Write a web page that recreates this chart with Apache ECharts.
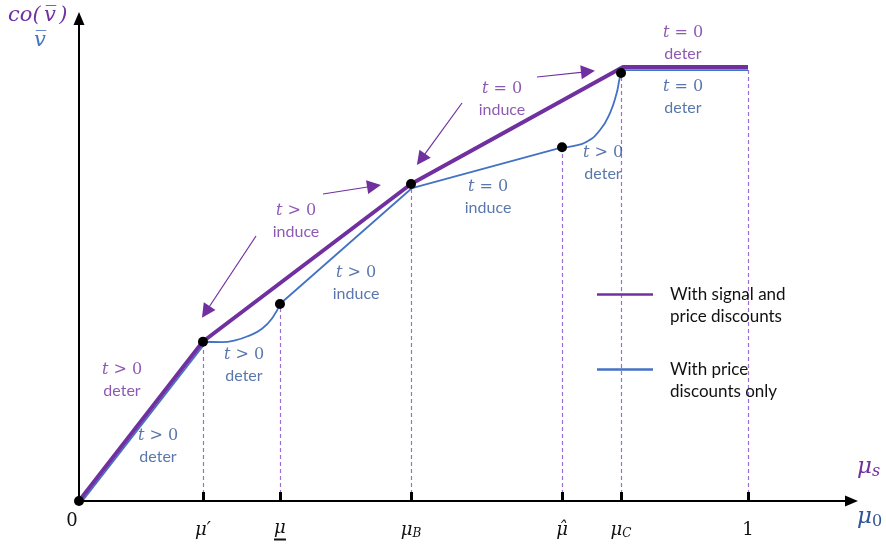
<!DOCTYPE html>
<html>
<head>
<meta charset="utf-8">
<script src="https://cdn.jsdelivr.net/npm/echarts@6/dist/echarts.min.js"></script>
<style>
  html, body { margin: 0; padding: 0; background: #ffffff; }
  #chart { width: 886px; height: 544px; }
</style>
</head>
<body>
<div id="chart"></div>
<script>
// Prior thresholds on the horizontal axis: 0, μ′, μ, μB, μ̂, μC, 1
const tickVals = [0, 0.1853, 0.3004, 0.4963, 0.7220, 0.8102, 1];
const tickLabels = ['0', 'μ\u2032', 'μ_', 'μB', 'μ\u0302', 'μC', '1'];

// Value with signal and price discounts: co(v̄)
const purpleX = [0, 0.1853, 0.4963, 0.8132, 1];
const purpleY = [0, 0.3675, 0.7304, 1.0, 1.0];

// Value with price discounts only: v̄, split into straight pieces and the two curved pieces
const blueLeg1 = [[0.0050, 0], [0.1885, 0.3635]];
const blueCurve1 = [[0.1853, 0.3670], [0.2138, 0.3660], [0.2332, 0.3700], [0.2526, 0.3800],
                    [0.2735, 0.3970], [0.2900, 0.4240], [0.3004, 0.4539]];
const blueLeg2 = [[0.3004, 0.4539], [0.4978, 0.7212], [0.7220, 0.8150]];
const blueCurve2 = [[0.7220, 0.8150], [0.7384, 0.8180], [0.7589, 0.8279], [0.7788, 0.8548],
                    [0.7937, 0.8940], [0.8037, 0.9401], [0.8076, 0.9700], [0.8102, 0.9862]];
const blueLeg3 = [[0.8102, 0.9862], [0.8146, 0.9930], [1, 0.9930]];

// Kink points marked with dots
const dotX = [0, 0.1853, 0.3004, 0.4963, 0.7220, 0.8102];
const dotY = [0, 0.3670, 0.4539, 0.7304, 0.8150, 0.9862];

// Height reached by each vertical guide (for μ′, μ, μB, μ̂, μC, 1)
const guideTop = [0.3670, 0.4539, 0.7304, 0.8150, 0.9862, 1.0];

// Region annotations: relation of t to zero, and the regime
const noteRel = ['>', '>', '>', '>', '>', '=', '=', '>', '=', '='];
const noteWord = ['deter', 'deter', 'deter', 'induce', 'induce', 'induce', 'induce', 'deter', 'deter', 'deter'];
const noteSeries = ['p', 'b', 'b', 'p', 'b', 'p', 'b', 'b', 'p', 'b'];

const seriesNames = ['With signal and price discounts', 'With price discounts only'];
const legendLines = [['With signal and', 'price discounts'], ['With price', 'discounts only']];

// ---- layout (placement of annotations and pointer arrows) ----
const notePos = [
  [0.0643, 0.2788], [0.1181, 0.1267], [0.2466, 0.3134], [0.3244, 0.6452], [0.4141, 0.5023],
  [0.6323, 0.9263], [0.6114, 0.7005], [0.7833, 0.7788], [0.9028, 1.0553], [0.9028, 0.9309]
];
const arrowFrom = [[0.2646, 0.6106], [0.3647, 0.7074], [0.5725, 0.9171], [0.6846, 0.9770]];
const arrowTo = [[0.1895, 0.4355], [0.4410, 0.7258], [0.5112, 0.7871], [0.7608, 0.9896]];

const PURPLE = '#7030A0';
const BLUE_LINE = '#4472C4';
const BLUE_TEXT = '#2F5597';
const GUIDE = '#9C6FD6';
const SERIF = 'DejaVu Serif';
const SANS = 'Lato';

const zip = (xs, ys) => xs.map((x, i) => [x, ys[i]]);

const tickRich = {
  m: { fontFamily: SERIF, fontStyle: 'italic', fontSize: 18, color: '#111', lineHeight: 22 },
  mu: { fontFamily: SERIF, fontStyle: 'italic', fontSize: 18, color: '#111', lineHeight: 19 },
  n: { fontFamily: SERIF, fontSize: 18, color: '#111', lineHeight: 22 },
  sub: { fontFamily: SERIF, fontStyle: 'italic', fontSize: 12, color: '#111', lineHeight: 22, padding: [8, 0, 0, 0] },
  ul: { width: 12, height: 2, backgroundColor: '#111', lineHeight: 3 },
  zero: { fontFamily: SERIF, fontSize: 18, color: '#111', lineHeight: 22, padding: [0, 14, 18, 0] }
};
function tickText(v) {
  const i = tickVals.indexOf(v);
  if (i < 0) return '';
  const s = tickLabels[i];
  if (s === '0') return '{zero|0}';
  if (s === '1') return '{n|1}';
  if (s === 'μ_') return '{mu|μ}\n{ul|}';
  if (s.length === 2 && /[A-Z]/.test(s[1])) return '{m|μ}{sub|' + s[1] + '}';
  return '{m|' + s + '}';
}

const noteRich = {
  tp: { fontFamily: SERIF, fontStyle: 'italic', fontSize: 16, color: PURPLE, lineHeight: 21 },
  rp: { fontFamily: SERIF, fontSize: 16, color: PURPLE, lineHeight: 21 },
  wp: { fontFamily: SANS, fontSize: 16, color: PURPLE, lineHeight: 21 },
  tb: { fontFamily: SERIF, fontStyle: 'italic', fontSize: 16, color: BLUE_TEXT, lineHeight: 21 },
  rb: { fontFamily: SERIF, fontSize: 16, color: BLUE_TEXT, lineHeight: 21 },
  wb: { fontFamily: SANS, fontSize: 16, color: BLUE_TEXT, lineHeight: 21 }
};

function bluePiece(data, smooth) {
  return {
    name: seriesNames[1], type: 'line', z: 3, symbol: 'none', smooth: smooth,
    lineStyle: { color: BLUE_LINE, width: 1.8 }, itemStyle: { color: BLUE_LINE },
    data: data
  };
}

const chart = echarts.init(document.getElementById('chart'), null, { renderer: 'canvas' });

chart.setOption({
  animation: false,
  backgroundColor: '#ffffff',
  grid: { left: 79, right: 34.5, top: 18.5, bottom: 43, containLabel: false, outerBoundsMode: 'none' },
  xAxis: {
    type: 'value', min: 0, max: 1.1547, z: 10,
    axisLine: {
      show: true, onZero: false,
      symbol: ['none', 'triangle'], symbolSize: [11, 13],
      lineStyle: { color: '#000', width: 2 }
    },
    axisTick: {
      show: true, inside: true, length: 9,
      customValues: tickVals.slice(1),
      lineStyle: { color: '#000', width: 3 }
    },
    axisLabel: { show: true, customValues: tickVals, margin: 18, formatter: tickText, rich: tickRich },
    splitLine: { show: false }
  },
  yAxis: {
    type: 'value', min: 0, max: 1.1118, z: 10,
    axisLine: {
      show: true, onZero: false,
      symbol: ['none', 'triangle'], symbolSize: [11, 13],
      lineStyle: { color: '#000', width: 2 }
    },
    axisTick: { show: false },
    axisLabel: { show: false },
    splitLine: { show: false }
  },
  legend: {
    orient: 'vertical', left: 597, top: 264, padding: 0, itemGap: 14,
    itemWidth: 56, itemHeight: 2.5,
    data: [
      { name: seriesNames[0], icon: 'rect' },
      { name: seriesNames[1], icon: 'rect' }
    ],
    // a blank top line keeps the key line level with the first line of text
    formatter: n => {
      const l = legendLines[seriesNames.indexOf(n)];
      return '{h| }\n{a|' + l[0] + '}\n{a|' + l[1] + '}';
    },
    textStyle: {
      fontFamily: SANS, fontSize: 17, color: '#111', padding: [0, 0, 0, 12],
      rich: {
        h: { fontSize: 17, lineHeight: 22 },
        a: { fontFamily: SANS, fontSize: 17, color: '#111', lineHeight: 22 }
      }
    },
    selectedMode: false
  },
  graphic: [
    {
      type: 'text', left: 8, top: 5, silent: true,
      style: {
        text: '{a|co(} {b|v\u0305} {a|)}',
        rich: {
          a: { fontFamily: SERIF, fontStyle: 'italic', fontSize: 21, fill: PURPLE },
          b: { fontFamily: SERIF, fontStyle: 'italic', fontSize: 21, fill: PURPLE }
        }
      }
    },
    {
      type: 'text', left: 34, top: 30, silent: true,
      style: { text: 'v\u0305', fontFamily: SERIF, fontStyle: 'italic', fontSize: 21, fill: '#4472C4' }
    },
    {
      type: 'text', left: 857, top: 456, silent: true,
      style: {
        text: '{m|μ}{s|s}',
        rich: {
          m: { fontFamily: SERIF, fontStyle: 'italic', fontSize: 23, fill: PURPLE },
          s: { fontFamily: SERIF, fontStyle: 'italic', fontSize: 16, fill: PURPLE, padding: [9, 0, 0, 0] }
        }
      }
    },
    {
      type: 'text', left: 857, top: 506, silent: true,
      style: {
        text: '{m|μ}{s|0}',
        rich: {
          m: { fontFamily: SERIF, fontStyle: 'italic', fontSize: 23, fill: BLUE_TEXT },
          s: { fontFamily: SERIF, fontSize: 16, fill: BLUE_TEXT, padding: [9, 0, 0, 0] }
        }
      }
    }
  ],
  series: [
    {
      type: 'lines', coordinateSystem: 'cartesian2d', silent: true, z: 1,
      symbol: 'none',
      lineStyle: { color: GUIDE, width: 1.2, type: [4, 3], opacity: 1 },
      data: tickVals.slice(1).map((x, i) => ({ coords: [[x, 0], [x, guideTop[i]]] }))
    },
    bluePiece(blueLeg1, false),
    bluePiece(blueCurve1, 0.5),
    bluePiece(blueLeg2, false),
    bluePiece(blueCurve2, 0.5),
    bluePiece(blueLeg3, false),
    {
      name: seriesNames[0], type: 'line', z: 4, symbol: 'none',
      lineStyle: { color: PURPLE, width: 4 }, itemStyle: { color: PURPLE },
      data: zip(purpleX, purpleY)
    },
    {
      type: 'lines', coordinateSystem: 'cartesian2d', silent: true, z: 5,
      symbol: ['none', 'triangle'], symbolSize: 14,
      lineStyle: { color: PURPLE, width: 1.2, opacity: 1 },
      data: arrowFrom.map((p, i) => ({ coords: [p, arrowTo[i]] }))
    },
    {
      type: 'scatter', z: 6, silent: true, symbolSize: 10,
      itemStyle: { color: '#000', opacity: 1 },
      data: zip(dotX, dotY)
    },
    {
      type: 'scatter', z: 7, silent: true, symbolSize: 0,
      data: notePos.map(p => p.slice()),
      label: {
        show: true, position: 'inside', align: 'center', verticalAlign: 'middle',
        formatter: p => {
          const c = noteSeries[p.dataIndex];
          return '{t' + c + '|t}{r' + c + '| ' + noteRel[p.dataIndex] + ' 0}\n{w' + c + '|' + noteWord[p.dataIndex] + '}';
        },
        rich: noteRich
      }
    }
  ]
});
</script>
</body>
</html>
